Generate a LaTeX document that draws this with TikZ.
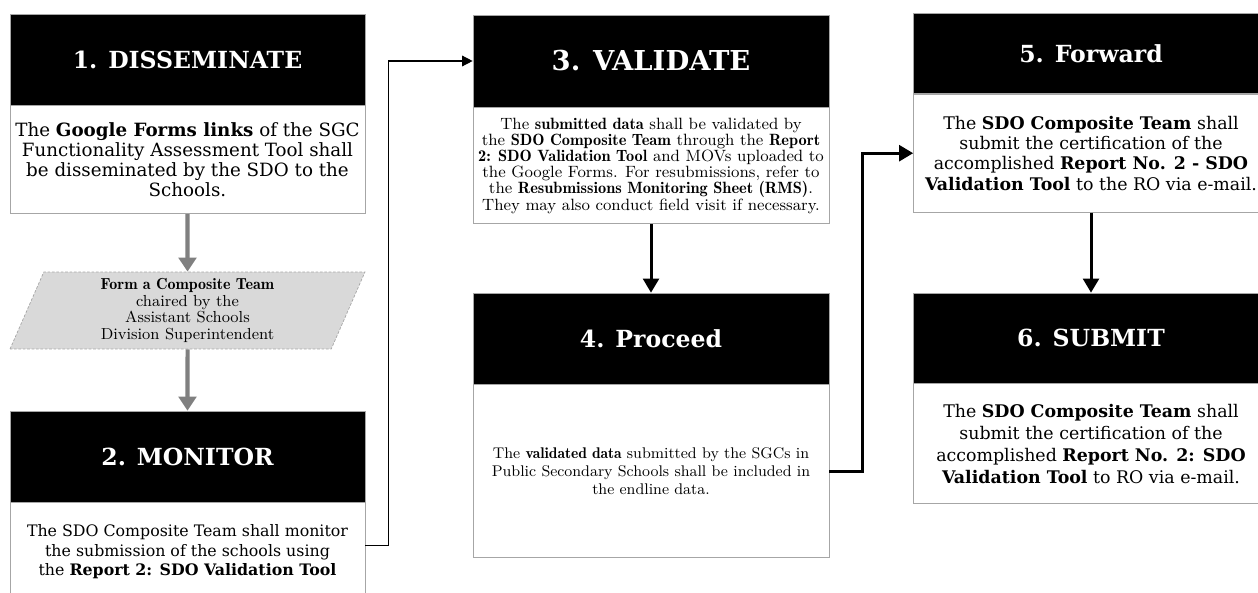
\documentclass[tikz,border=0pt]{standalone}
\usepackage{fontspec}
\setmainfont{DejaVu Serif}
\usetikzlibrary{positioning, shapes.geometric, arrows.meta}
\definecolor{arrowgray}{HTML}{808080}
\definecolor{edgegray}{HTML}{A6A6A6}

\begin{document}
\begin{tikzpicture}[x=0.02cm, y=-0.02cm,
    stephead/.style={fill=black, draw=edgegray, text=white, minimum width=7.1cm,
        minimum height=1.82cm, inner sep=0pt, font=\fontsize{13.4}{16}\selectfont\bfseries},
    stepbody/.style={fill=white, draw=edgegray, minimum width=7.1cm, inner sep=2pt,
        align=center, font=\fontsize{10.4}{11.3}\selectfont},
    lmbody/.style={stepbody, font=\fontfamily{lmr}\fontsize{9.3}{9.2}\selectfont},
    teambox/.style={trapezium, trapezium left angle=62.5, trapezium right angle=117.5,
        trapezium stretches body, minimum width=7.1cm, minimum height=1.54cm, inner sep=0pt,
        fill=gray!30, draw=gray!70, dash pattern=on 1.5pt off 1pt, align=center,
        font=\fontfamily{lmr}\fontsize{9.1}{9.6}\selectfont},
    grayarrow/.style={draw=arrowgray, line width=2.3pt, -{Triangle[width=10pt,length=8pt]}},
    flowarrow/.style={draw=black, line width=1.7pt, -{Triangle[width=9pt,length=8pt]}},
    thinarrow/.style={draw=black, line width=0.8pt, -{Triangle[width=6pt,length=6pt]}}
]
    \useasboundingbox (0,0) rectangle (1258,592);

    % column 1: disseminate and monitor
    \node[stephead] (h1) at (187.5,59.5) {1. DISSEMINATE};
    \node[stepbody, minimum height=2.16cm, below=0pt of h1] (b1) {The \textbf{Google Forms links} of the SGC\\
        Functionality Assessment Tool shall\\
        be disseminated by the SDO to the\\
        Schools.};

    \node[teambox] (team) at (187.5,310.5) {\textbf{Form a Composite Team}\\
        chaired by the\\
        Assistant Schools\\
        Division Superintendent};

    \node[stephead] (h2) at (187.5,456.5) {2. MONITOR};
    \node[stepbody, minimum height=1.96cm, below=0pt of h2,
        font=\fontsize{9}{11.3}\selectfont] (b2) {The SDO Composite Team shall monitor\\
        the submission of the schools using\\
        the \textbf{Report 2: SDO Validation Tool}};

    % column 2: validate and proceed
    \node[stephead, minimum width=7.12cm, minimum height=1.84cm,
        font=\fontsize{15.6}{18}\selectfont\bfseries] (h3) at (651,61) {3. VALIDATE};
    \node[lmbody, minimum width=7.12cm, minimum height=2.32cm, below=0pt of h3] (b3) {The \textbf{submitted data} shall be validated by\\
        the \textbf{SDO Composite Team} through the \textbf{Report}\\
        \textbf{2: SDO Validation Tool} and MOVs uploaded to\\
        the Google Forms. For resubmissions, refer to\\
        the \textbf{Resubmissions Monitoring Sheet (RMS)}.\\
        They may also conduct field visit if necessary.};

    \node[stephead, minimum width=7.12cm] (h4) at (651,338.5) {4. Proceed};
    \node[lmbody, minimum width=7.12cm, minimum height=3.46cm, below=0pt of h4,
        font=\fontfamily{lmr}\fontsize{8.8}{10}\selectfont] (b4) {The \textbf{validated data} submitted by the SGCs in\\
        Public Secondary Schools shall be included in\\
        the endline data.};

    % column 3: forward and submit
    \node[stephead, minimum height=1.6cm] (h5) at (1091,53.5) {5. Forward};
    \node[stepbody, minimum height=2.36cm, below=0pt of h5,
        font=\fontsize{9.9}{11.6}\selectfont] (b5) {The \textbf{SDO Composite Team} shall\\
        submit the certification of the\\
        accomplished \textbf{Report No. 2 - SDO}\\
        \textbf{Validation Tool} to the RO via e-mail.};

    \node[stephead, minimum height=1.8cm] (h6) at (1091,338) {6. SUBMIT};
    \node[stepbody, minimum height=2.4cm, below=0pt of h6,
        font=\fontsize{9.9}{12.5}\selectfont] (b6) {The \textbf{SDO Composite Team} shall\\
        submit the certification of the\\
        accomplished \textbf{Report No. 2: SDO}\\
        \textbf{Validation Tool} to RO via e-mail.};

    % connectors
    \draw[grayarrow] (b1) -- (team);
    \draw[grayarrow] (team) -- (h2);
    \draw[thinarrow] ([yshift=3.4pt]b2.east) -- ++(23,0) |- (h3.west);
    \draw[flowarrow] (b3) -- (h4);
    \draw[flowarrow] (b4.east) -- ++(33,0) |- (b5.west);
    \draw[flowarrow] (b5) -- (h6);
\end{tikzpicture}
\end{document}
